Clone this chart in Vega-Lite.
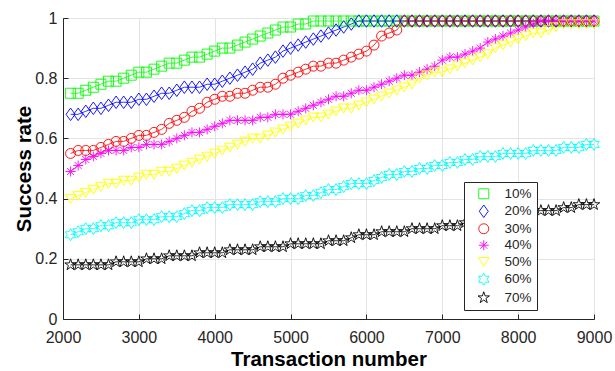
{
  "$schema": "https://vega.github.io/schema/vega-lite/v6.json",
  "width": 531,
  "height": 301,
  "autosize": "none",
  "padding": {"left": 63, "top": 18, "right": 21, "bottom": 52},
  "background": "white",
  "config": {
    "font": "Liberation Sans",
    "view": {"stroke": "#262626", "strokeWidth": 1},
    "axis": {
      "domainColor": "#262626",
      "tickColor": "#262626",
      "gridColor": "#e3e3e3",
      "gridWidth": 1,
      "labelColor": "#262626",
      "labelFontSize": 16,
      "titleColor": "#000000",
      "titleFontSize": 20.5,
      "titleFontWeight": "bold",
      "labelFont": "Liberation Sans",
      "titleFont": "Liberation Sans",
      "labelFlush": false
    },
    "legend": {
      "fillColor": "white",
      "strokeColor": "#262626",
      "padding": 5,
      "rowPadding": 1.5,
      "labelFontSize": 13.5,
      "labelColor": "#262626",
      "labelFont": "Liberation Sans",
      "symbolSize": 100,
      "symbolStrokeWidth": 0.9,
      "symbolFillColor": "transparent"
    }
  },
  "data": {
    "values": [
      {"x":2100,"10%":0.75,"20%":0.68,"30%":0.55,"40%":0.49,"50%":0.40,"60%":0.28,"70%":0.18},
      {"x":2200,"10%":0.75,"20%":0.68,"30%":0.56,"40%":0.51,"50%":0.41,"60%":0.29,"70%":0.18},
      {"x":2300,"10%":0.76,"20%":0.69,"30%":0.56,"40%":0.53,"50%":0.42,"60%":0.30,"70%":0.18},
      {"x":2400,"10%":0.77,"20%":0.70,"30%":0.56,"40%":0.54,"50%":0.43,"60%":0.30,"70%":0.18},
      {"x":2500,"10%":0.78,"20%":0.70,"30%":0.57,"40%":0.55,"50%":0.44,"60%":0.31,"70%":0.18},
      {"x":2600,"10%":0.79,"20%":0.71,"30%":0.58,"40%":0.56,"50%":0.45,"60%":0.31,"70%":0.18},
      {"x":2700,"10%":0.79,"20%":0.72,"30%":0.59,"40%":0.56,"50%":0.45,"60%":0.32,"70%":0.19},
      {"x":2800,"10%":0.80,"20%":0.72,"30%":0.59,"40%":0.56,"50%":0.46,"60%":0.32,"70%":0.19},
      {"x":2900,"10%":0.81,"20%":0.72,"30%":0.60,"40%":0.57,"50%":0.46,"60%":0.32,"70%":0.19},
      {"x":3000,"10%":0.82,"20%":0.73,"30%":0.61,"40%":0.57,"50%":0.47,"60%":0.33,"70%":0.19},
      {"x":3100,"10%":0.82,"20%":0.73,"30%":0.61,"40%":0.58,"50%":0.48,"60%":0.33,"70%":0.20},
      {"x":3200,"10%":0.83,"20%":0.74,"30%":0.62,"40%":0.58,"50%":0.48,"60%":0.33,"70%":0.20},
      {"x":3300,"10%":0.84,"20%":0.75,"30%":0.63,"40%":0.58,"50%":0.49,"60%":0.34,"70%":0.20},
      {"x":3400,"10%":0.85,"20%":0.75,"30%":0.65,"40%":0.59,"50%":0.49,"60%":0.34,"70%":0.21},
      {"x":3500,"10%":0.85,"20%":0.76,"30%":0.66,"40%":0.60,"50%":0.50,"60%":0.34,"70%":0.21},
      {"x":3600,"10%":0.86,"20%":0.77,"30%":0.67,"40%":0.61,"50%":0.51,"60%":0.35,"70%":0.21},
      {"x":3700,"10%":0.87,"20%":0.77,"30%":0.69,"40%":0.62,"50%":0.52,"60%":0.36,"70%":0.21},
      {"x":3800,"10%":0.87,"20%":0.77,"30%":0.70,"40%":0.62,"50%":0.53,"60%":0.36,"70%":0.22},
      {"x":3900,"10%":0.88,"20%":0.78,"30%":0.72,"40%":0.63,"50%":0.54,"60%":0.37,"70%":0.22},
      {"x":4000,"10%":0.89,"20%":0.78,"30%":0.73,"40%":0.64,"50%":0.55,"60%":0.37,"70%":0.22},
      {"x":4100,"10%":0.90,"20%":0.79,"30%":0.74,"40%":0.65,"50%":0.56,"60%":0.37,"70%":0.22},
      {"x":4200,"10%":0.90,"20%":0.80,"30%":0.74,"40%":0.66,"50%":0.57,"60%":0.38,"70%":0.23},
      {"x":4300,"10%":0.91,"20%":0.81,"30%":0.75,"40%":0.66,"50%":0.58,"60%":0.38,"70%":0.23},
      {"x":4400,"10%":0.92,"20%":0.82,"30%":0.75,"40%":0.66,"50%":0.59,"60%":0.38,"70%":0.23},
      {"x":4500,"10%":0.93,"20%":0.83,"30%":0.76,"40%":0.66,"50%":0.60,"60%":0.38,"70%":0.23},
      {"x":4600,"10%":0.94,"20%":0.85,"30%":0.77,"40%":0.67,"50%":0.60,"60%":0.39,"70%":0.24},
      {"x":4700,"10%":0.95,"20%":0.86,"30%":0.77,"40%":0.67,"50%":0.61,"60%":0.39,"70%":0.24},
      {"x":4800,"10%":0.96,"20%":0.87,"30%":0.78,"40%":0.68,"50%":0.62,"60%":0.39,"70%":0.24},
      {"x":4900,"10%":0.97,"20%":0.89,"30%":0.80,"40%":0.68,"50%":0.63,"60%":0.40,"70%":0.24},
      {"x":5000,"10%":0.97,"20%":0.90,"30%":0.81,"40%":0.68,"50%":0.64,"60%":0.40,"70%":0.25},
      {"x":5100,"10%":0.98,"20%":0.91,"30%":0.82,"40%":0.69,"50%":0.65,"60%":0.40,"70%":0.25},
      {"x":5200,"10%":0.98,"20%":0.92,"30%":0.83,"40%":0.70,"50%":0.66,"60%":0.41,"70%":0.25},
      {"x":5300,"10%":0.99,"20%":0.93,"30%":0.84,"40%":0.71,"50%":0.67,"60%":0.41,"70%":0.25},
      {"x":5400,"10%":0.99,"20%":0.94,"30%":0.84,"40%":0.72,"50%":0.67,"60%":0.42,"70%":0.25},
      {"x":5500,"10%":0.99,"20%":0.95,"30%":0.85,"40%":0.73,"50%":0.68,"60%":0.43,"70%":0.26},
      {"x":5600,"10%":0.99,"20%":0.96,"30%":0.85,"40%":0.74,"50%":0.69,"60%":0.43,"70%":0.26},
      {"x":5700,"10%":0.99,"20%":0.97,"30%":0.86,"40%":0.74,"50%":0.70,"60%":0.44,"70%":0.26},
      {"x":5800,"10%":0.99,"20%":0.98,"30%":0.87,"40%":0.75,"50%":0.70,"60%":0.45,"70%":0.27},
      {"x":5900,"10%":0.99,"20%":0.99,"30%":0.88,"40%":0.76,"50%":0.71,"60%":0.45,"70%":0.28},
      {"x":6000,"10%":0.99,"20%":0.99,"30%":0.89,"40%":0.76,"50%":0.72,"60%":0.45,"70%":0.28},
      {"x":6100,"10%":0.99,"20%":0.99,"30%":0.91,"40%":0.77,"50%":0.73,"60%":0.46,"70%":0.28},
      {"x":6200,"10%":0.99,"20%":0.99,"30%":0.94,"40%":0.78,"50%":0.74,"60%":0.47,"70%":0.29},
      {"x":6300,"10%":0.99,"20%":0.99,"30%":0.95,"40%":0.79,"50%":0.75,"60%":0.48,"70%":0.29},
      {"x":6400,"10%":0.99,"20%":0.99,"30%":0.96,"40%":0.80,"50%":0.76,"60%":0.48,"70%":0.29},
      {"x":6500,"10%":0.99,"20%":0.99,"30%":0.99,"40%":0.81,"50%":0.77,"60%":0.49,"70%":0.29},
      {"x":6600,"10%":0.99,"20%":0.99,"30%":0.99,"40%":0.81,"50%":0.78,"60%":0.49,"70%":0.30},
      {"x":6700,"10%":0.99,"20%":0.99,"30%":0.99,"40%":0.82,"50%":0.80,"60%":0.50,"70%":0.30},
      {"x":6800,"10%":0.99,"20%":0.99,"30%":0.99,"40%":0.83,"50%":0.81,"60%":0.50,"70%":0.30},
      {"x":6900,"10%":0.99,"20%":0.99,"30%":0.99,"40%":0.84,"50%":0.82,"60%":0.51,"70%":0.30},
      {"x":7000,"10%":0.99,"20%":0.99,"30%":0.99,"40%":0.86,"50%":0.82,"60%":0.51,"70%":0.31},
      {"x":7100,"10%":0.99,"20%":0.99,"30%":0.99,"40%":0.87,"50%":0.83,"60%":0.52,"70%":0.31},
      {"x":7200,"10%":0.99,"20%":0.99,"30%":0.99,"40%":0.87,"50%":0.84,"60%":0.52,"70%":0.31},
      {"x":7300,"10%":0.99,"20%":0.99,"30%":0.99,"40%":0.88,"50%":0.85,"60%":0.53,"70%":0.32},
      {"x":7400,"10%":0.99,"20%":0.99,"30%":0.99,"40%":0.89,"50%":0.86,"60%":0.53,"70%":0.32},
      {"x":7500,"10%":0.99,"20%":0.99,"30%":0.99,"40%":0.90,"50%":0.87,"60%":0.54,"70%":0.33},
      {"x":7600,"10%":0.99,"20%":0.99,"30%":0.99,"40%":0.92,"50%":0.88,"60%":0.54,"70%":0.33},
      {"x":7700,"10%":0.99,"20%":0.99,"30%":0.99,"40%":0.93,"50%":0.90,"60%":0.54,"70%":0.34},
      {"x":7800,"10%":0.99,"20%":0.99,"30%":0.99,"40%":0.94,"50%":0.91,"60%":0.55,"70%":0.34},
      {"x":7900,"10%":0.99,"20%":0.99,"30%":0.99,"40%":0.95,"50%":0.92,"60%":0.55,"70%":0.35},
      {"x":8000,"10%":0.99,"20%":0.99,"30%":0.99,"40%":0.96,"50%":0.93,"60%":0.55,"70%":0.35},
      {"x":8100,"10%":0.99,"20%":0.99,"30%":0.99,"40%":0.97,"50%":0.94,"60%":0.55,"70%":0.36},
      {"x":8200,"10%":0.99,"20%":0.99,"30%":0.99,"40%":0.98,"50%":0.95,"60%":0.56,"70%":0.36},
      {"x":8300,"10%":0.99,"20%":0.99,"30%":0.99,"40%":0.99,"50%":0.95,"60%":0.56,"70%":0.36},
      {"x":8400,"10%":0.99,"20%":0.99,"30%":0.99,"40%":0.99,"50%":0.96,"60%":0.56,"70%":0.36},
      {"x":8500,"10%":0.99,"20%":0.99,"30%":0.99,"40%":0.99,"50%":0.97,"60%":0.56,"70%":0.36},
      {"x":8600,"10%":0.99,"20%":0.99,"30%":0.99,"40%":0.99,"50%":0.98,"60%":0.57,"70%":0.37},
      {"x":8700,"10%":0.99,"20%":0.99,"30%":0.99,"40%":0.99,"50%":0.98,"60%":0.57,"70%":0.37},
      {"x":8800,"10%":0.99,"20%":0.99,"30%":0.99,"40%":0.99,"50%":0.98,"60%":0.57,"70%":0.38},
      {"x":8900,"10%":0.99,"20%":0.99,"30%":0.99,"40%":0.99,"50%":0.98,"60%":0.58,"70%":0.38},
      {"x":9000,"10%":0.99,"20%":0.99,"30%":0.99,"40%":0.99,"50%":0.98,"60%":0.58,"70%":0.38}
    ]
  },
  "transform": [
    {"fold": ["10%", "20%", "30%", "40%", "50%", "60%", "70%"], "as": ["series", "rate"]}
  ],
  "encoding": {
    "x": {
      "field": "x", "type": "quantitative",
      "scale": {"domain": [2000, 9000], "nice": false, "zero": false},
      "axis": {
        "title": "Transaction number",
        "values": [2000, 3000, 4000, 5000, 6000, 7000, 8000, 9000],
        "format": "d",
        "grid": true,
        "tickSize": -5,
        "labelPadding": 15,
        "titlePadding": 4
      }
    },
    "y": {
      "field": "rate", "type": "quantitative",
      "scale": {"domain": [0, 1], "nice": false},
      "axis": {
        "title": "Success rate",
        "values": [0, 0.2, 0.4, 0.6, 0.8, 1],
        "format": ".1~f",
        "grid": true,
        "tickSize": -5,
        "labelPadding": 11,
        "titlePadding": 0
      }
    },
    "color": {
      "field": "series", "type": "nominal",
      "scale": {
        "domain": ["10%", "20%", "30%", "40%", "50%", "60%", "70%"],
        "range": ["#00ff00", "#0000ff", "#ff0000", "#ff00ff", "#ffff00", "#00ffff", "#000000"]
      },
      "legend": {
        "title": null,
        "orient": "none",
        "legendX": 401,
        "legendY": 164,
        "symbolOffset": 8,
        "labelOffset": 14
      }
    }
  },
  "layer": [
    {
      "mark": {"type": "line", "strokeWidth": 0.8}
    },
    {
      "mark": {"type": "point", "filled": false, "size": 100, "strokeWidth": 0.9, "opacity": 1},
      "encoding": {
        "shape": {
          "field": "series", "type": "nominal",
          "scale": {
            "domain": ["10%", "20%", "30%", "40%", "50%", "60%", "70%"],
            "range": [
              "M-1,-1L1,-1L1,1L-1,1Z",
              "M0,-1.25L0.9,0L0,1.25L-0.9,0Z",
              "M1,0A1,1,0,1,1,-1,0A1,1,0,1,1,1,0Z",
              "M-1,0L1,0M0,-1L0,1M-0.7,-0.7L0.7,0.7M-0.7,0.7L0.7,-0.7",
              "M-1.05,-0.85L1.05,-0.85L0,0.95Z",
              "M0,-1.2L0.346,-0.6L1.04,-0.6L0.693,0L1.04,0.6L0.346,0.6L0,1.2L-0.346,0.6L-1.04,0.6L-0.693,0L-1.04,-0.6L-0.346,-0.6Z",
              "M0,-1.2L0.27,-0.371L1.141,-0.371L0.436,0.142L0.706,0.971L0,0.458L-0.706,0.971L-0.436,0.142L-1.141,-0.371L-0.27,-0.371Z"
            ]
          },
          "legend": {
            "title": null,
            "orient": "none",
            "legendX": 401,
            "legendY": 164,
            "symbolOffset": 8,
            "labelOffset": 14
          }
        }
      }
    }
  ]
}
